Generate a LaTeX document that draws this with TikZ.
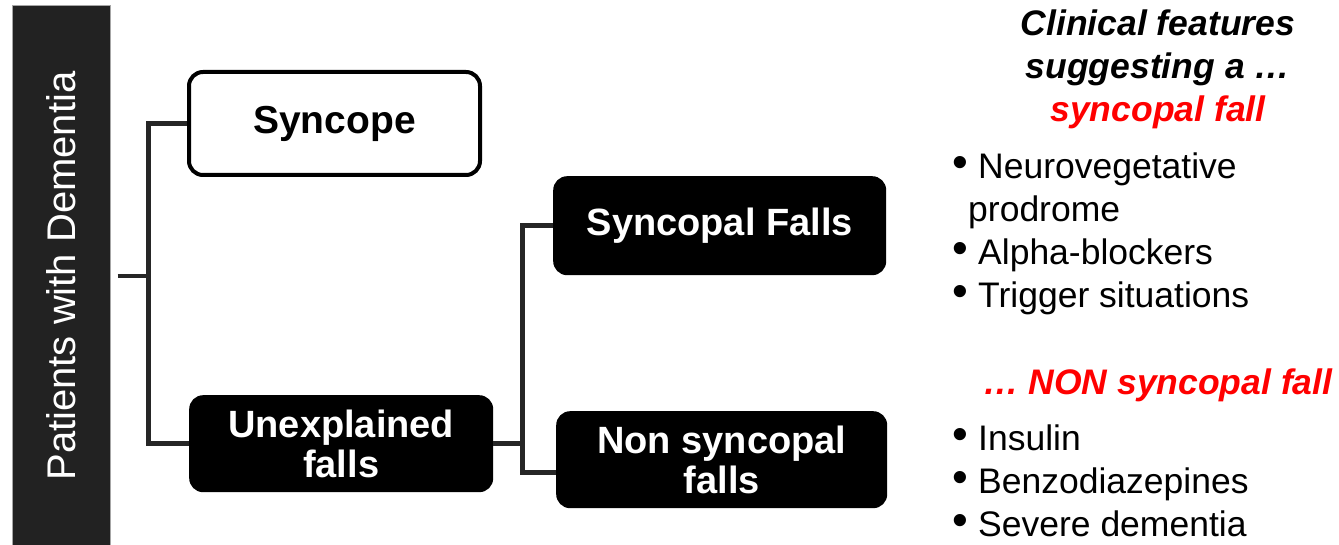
\documentclass[tikz,border=0pt]{standalone}
\usepackage{fontspec}
\setmainfont{Liberation Sans}
\definecolor{barc}{RGB}{34,34,34}
\definecolor{linec}{RGB}{38,38,38}
\definecolor{hred}{RGB}{255,0,0}
\begin{document}
\begin{tikzpicture}[x=1pt,y=-1pt,
  conn/.style={draw=linec, line width=4.5pt},
  wbox/.style={draw=black, line width=4pt, fill=white, rounded corners=14pt, anchor=north west, inner sep=0pt, align=center, font=\fontsize{39}{40}\selectfont\bfseries},
  bbox/.style={fill=black, rounded corners=14pt, anchor=north west, inner sep=0pt, align=center, text=white, font=\fontsize{38}{40}\selectfont\bfseries},
  hdr/.style={anchor=base, inner sep=0pt, font=\fontsize{35.5}{42}\selectfont\bfseries\itshape},
  itemtxt/.style={anchor=base west, inner sep=0pt, font=\fontsize{35.5}{42}\selectfont},
  bulletmark/.style={anchor=base, inner sep=0pt, font=\fontsize{45}{45}\selectfont}]
\useasboundingbox (0,0) rectangle (1339,545);
% left bar
\node[fill=barc, draw=gray!70, line width=0.6pt, anchor=north west, minimum width=98, minimum height=541, inner sep=0pt] (bar) at (12,5) {};
\node[rotate=90, anchor=base, text=white, inner sep=0pt, font=\fontsize{40}{48}\selectfont] (pt) at (75,276) {Patients with Dementia};
% boxes
\node[wbox, minimum width=291, minimum height=103] (syn) at (187,70) {Syncope};
\node[bbox, minimum width=304, minimum height=97] (ue) at (189,395) {Unexplained\\falls};
\node[bbox, minimum width=333, minimum height=99] (sf) at (553,176) {Syncopal Falls};
\node[bbox, minimum width=331, minimum height=97] (nsf) at (556,411) {Non syncopal\\falls};
% connectors
\draw[conn] ([xshift=7pt]bar.east) -- ++(31,0) coordinate (j1);
\draw[conn] (syn.west) -| (j1) |- (ue.west);
\draw[conn] (ue.east) -- ++(29,0) coordinate (j2);
\draw[conn] (sf.west) -| (j2) |- ([yshift=-13pt]nsf.west);
% right text
\node[hdr] (h1) at (1158,36) {Clinical features};
\node[hdr] (h2) at (1158,79) {suggesting a …};
\node[hdr, text=hred] (h3) at (1158,122) {syncopal fall};
\node[bulletmark] (b1) at (960,178) {•};
\node[itemtxt] (t1) at (978,179) {Neurovegetative};
\node[itemtxt] (t1b) at (968,222) {prodrome};
\node[bulletmark] (b2) at (960,264) {•};
\node[itemtxt] (t2) at (978,265) {Alpha-blockers};
\node[bulletmark] (b3) at (960,307) {•};
\node[itemtxt] (t3) at (978,308) {Trigger situations};
\node[hdr, anchor=base west, text=hred] (h4) at (983,394) {… NON syncopal fall};
\node[bulletmark] (b4) at (960,449) {•};
\node[itemtxt] (t4) at (978,450) {Insulin};
\node[bulletmark] (b5) at (960,492) {•};
\node[itemtxt] (t5) at (978,493) {Benzodiazepines};
\node[bulletmark] (b6) at (960,535) {•};
\node[itemtxt] (t6) at (978,536) {Severe dementia};
\end{tikzpicture}
\end{document}
